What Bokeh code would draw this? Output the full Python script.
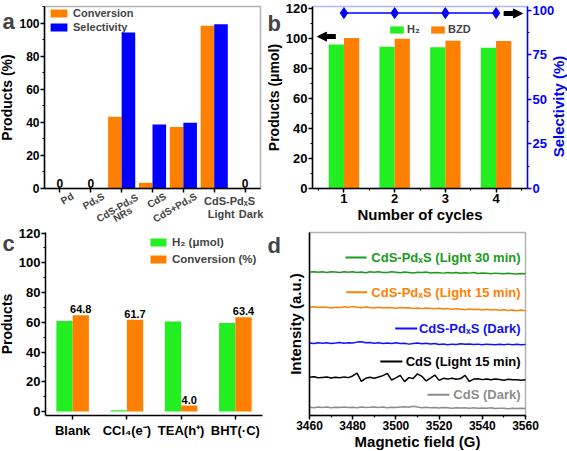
import math
from bokeh.plotting import figure
from bokeh.models import (Range1d, LinearAxis, FixedTicker, SingleIntervalTicker,
                          CustomJSTickFormatter, Legend, LegendItem, Label, Arrow, NormalHead,
                          ColumnDataSource, BoxAnnotation)
from bokeh.layouts import row, column
from bokeh.transform import dodge
from bokeh.core.properties import value
from bokeh.embed import file_html
from bokeh.resources import INLINE

# ---------------- data ----------------
a_samples = ["Pd", "PdₓS", "CdS-PdₓS\nNRs", "CdS", "CdS+PdₓS", "Light", "Dark"]
a_group_label = "CdS-PdₓS"          # shared label of the last two samples
a_conversion = [0, 0, 43.3, 3.4, 37.2, 98.3, 0]
a_selectivity = [0, 0, 94.3, 38.7, 39.7, 99.3, 0]

b_cycles = [1, 2, 3, 4]
b_h2 = [95.8, 94.3, 93.9, 93.6]
b_bzd = [100.0, 99.6, 98.3, 98.0]
b_selectivity = [98.5, 98.5, 98.5, 98.5]

c_conditions = ["Blank", "CCl₄(e⁻)", "TEA(h⁺)", "BHT(·C)"]
c_h2 = [60.8, 0.8, 60.5, 59.6]
c_conversion = [64.8, 61.7, 4.0, 63.4]

d_field = list(range(3460, 3561, 2))
d_names = ["CdS-PdₓS (Light 30 min)", "CdS-PdₓS (Light 15 min)", "CdS-PdₓS (Dark)",
           "CdS (Light 15 min)", "CdS (Dark)"]
d_pdxs_light30 = [78.4, 78.6, 78.3, 78.5, 78.2, 78.6, 78.4, 78.1, 78.5, 78.3,
                  78.6, 78.2, 78.4, 78.0, 78.5, 78.3, 78.6, 78.2, 78.1, 78.5,
                  78.3, 78.0, 78.4, 78.2, 77.9, 78.3, 78.1, 78.4, 77.9, 78.2,
                  78.0, 77.8, 78.1, 77.9, 78.2, 77.7, 78.0, 77.8, 78.1, 77.6,
                  77.9, 77.7, 77.5, 77.8, 77.6, 77.4, 77.7, 77.5, 77.3, 77.6, 77.4]
d_pdxs_light15 = [59.1, 59.4, 59.0, 59.3, 59.1, 58.8, 59.2, 59.0, 59.4, 59.1,
                  59.5, 59.2, 58.9, 59.3, 59.0, 58.8, 59.1, 58.7, 59.0, 58.9,
                  58.6, 59.0, 58.7, 58.9, 58.5, 58.8, 58.4, 58.7, 58.5, 58.3,
                  58.6, 58.2, 58.5, 58.0, 58.3, 58.1, 57.8, 58.2, 57.9, 58.1,
                  57.7, 58.0, 57.6, 57.9, 57.5, 57.8, 57.4, 57.7, 57.3, 57.6, 57.3]
d_pdxs_dark = [39.6, 39.3, 39.8, 39.5, 39.7, 39.4, 39.6, 39.9, 39.5, 39.8,
               39.6, 40.1, 40.3, 39.7, 39.9, 39.5, 39.7, 39.3, 39.6, 39.4,
               39.7, 39.3, 39.5, 39.0, 39.4, 39.6, 39.2, 39.5, 39.1, 39.3,
               38.8, 39.1, 38.7, 39.0, 38.8, 39.2, 38.9, 39.1, 38.8, 39.0,
               38.7, 39.0, 38.8, 38.6, 38.9, 38.7, 39.0, 38.6, 38.9, 38.7, 38.8]
d_cds_light15 = [20.9, 21.2, 20.6, 20.8, 21.0, 20.5, 20.9, 20.6, 21.1, 20.7,
                 21.6, 23.2, 18.6, 20.3, 20.9, 20.4, 21.0, 21.8, 23.0, 19.4,
                 20.6, 21.9, 18.5, 20.7, 20.2, 22.8, 21.4, 18.9, 20.4, 22.1,
                 19.2, 20.3, 19.9, 20.4, 19.8, 20.2, 21.9, 18.6, 19.9, 20.1,
                 19.6, 20.0, 19.5, 19.9, 19.7, 19.3, 19.8, 19.5, 19.6, 19.3, 19.6]
d_cds_dark = [4.5, 4.3, 4.6, 4.4, 4.6, 4.3, 4.5, 4.4, 4.7, 4.4,
              4.5, 4.3, 4.6, 4.4, 4.5, 4.7, 4.4, 4.6, 4.3, 4.5,
              4.4, 4.6, 4.8, 4.5, 5.0, 4.6, 4.3, 4.5, 4.2, 4.4,
              4.1, 4.4, 4.2, 4.0, 4.3, 4.1, 4.3, 4.0, 4.2, 3.9,
              4.1, 3.9, 4.2, 3.8, 4.0, 3.9, 3.7, 4.0, 3.8, 3.9, 3.8]

# ---------------- style ----------------
FONT = "Liberation Sans"
ORANGE = "#FF8000"
BLUE = "#0000FF"
GREEN = "#22EE22"
D_COLORS = ["#1A9A1A", "#FF8000", "#1010FF", "#000000", "#8C8C8C"]


def span(lo, hi, a, b, total):
    """Range such that data lo..hi occupies canvas pixels a..b (from left/bottom)."""
    k = (hi - lo) / (b - a)
    return Range1d(lo - a * k, hi + (total - b) * k)


def new_fig(w, h, x_range, y_range):
    p = figure(width=w, height=h, x_range=x_range, y_range=y_range,
               output_backend="svg", toolbar_location=None, min_border=0)
    p.xgrid.visible = False
    p.ygrid.visible = False
    p.outline_line_color = None
    return p


def frame_box(p, left, right, bottom, top, color, **kw):
    p.add_layout(BoxAnnotation(left=left, right=right, bottom=bottom, top=top,
                               fill_alpha=0, line_color=color, line_width=1.5,
                               level="underlay", **kw))


def style_axis(ax, size="12px", color="black", label_size="15px"):
    ax.axis_line_width = 1.5
    ax.axis_line_color = color
    ax.major_tick_line_color = color
    ax.minor_tick_line_color = color
    ax.major_tick_line_width = 1.5
    ax.minor_tick_line_width = 1.2
    ax.major_tick_out = 4
    ax.major_tick_in = 0
    ax.minor_tick_out = 2
    ax.minor_tick_in = 0
    ax.major_label_text_font = FONT
    ax.major_label_text_font_style = "bold"
    ax.major_label_text_font_size = size
    ax.major_label_text_color = color
    ax.major_label_standoff = 1
    ax.axis_label_text_font = FONT
    ax.axis_label_text_font_style = "bold"
    ax.axis_label_text_font_size = label_size
    ax.axis_label_text_color = color
    ax.axis_label_standoff = 1


def letter(p, text, x, y):
    p.add_layout(Label(x=x, y=y, x_units="screen", y_units="screen", text=text,
                       text_font=FONT, text_font_style="bold", text_font_size="22px",
                       text_align="left", text_baseline="alphabetic"))


def make_legend(items, loc, gw, gh, lh, size, standoff, orientation="vertical", spacing=0):
    return Legend(items=items, location=loc, orientation=orientation,
                  glyph_width=gw, glyph_height=gh, label_height=lh,
                  label_standoff=standoff, spacing=spacing, padding=0, margin=0,
                  border_line_color=None, background_fill_alpha=0,
                  label_text_font=FONT, label_text_font_style="bold",
                  label_text_font_size=size)


# ---------------- panel a ----------------
n_a = len(a_samples)
a_pos = [i + 0.5 for i in range(n_a)]
AX, AY = (0, n_a), (0, 110)
pa = new_fig(267, 225, span(*AX, 44, 260, 267), span(*AY, 37, 219, 225))
frame_box(pa, *AX, *AY, "black")
src_a = ColumnDataSource(dict(x=a_pos, conv=a_conversion, sel=a_selectivity))
ra1 = pa.vbar(x=dodge("x", -0.22), top="conv", width=0.44, source=src_a,
              fill_color=ORANGE, line_color=None)
ra2 = pa.vbar(x=dodge("x", 0.22), top="sel", width=0.44, source=src_a,
              fill_color=BLUE, line_color=None)
zero_x = [a_pos[i] for i in range(n_a) if a_conversion[i] == 0 and a_selectivity[i] == 0]
pa.text(x=zero_x, y=[0] * len(zero_x), text=["0"] * len(zero_x), text_align="center",
        text_baseline="bottom", y_offset=-1, text_font=value(FONT), text_font_style="bold",
        text_font_size="12px", text_color="black")
ya = pa.yaxis[0]
style_axis(ya, "12px", label_size="14px")
ya.ticker = SingleIntervalTicker(interval=20, num_minor_ticks=2)
ya.axis_label = "Products (%)"
ya.fixed_location = AX[0]
ya.bounds = AY
xa = pa.xaxis[0]
style_axis(xa)
xa.ticker = FixedTicker(ticks=a_pos)
xa.formatter = CustomJSTickFormatter(code="return ''")
xa.fixed_location = AY[0]
xa.bounds = AX
# rotated sample names (first line anchored by its top-right corner, a 2nd line tucked below)
for i in range(5):
    lines = a_samples[i].split("\n")
    first_dx, first_dy = (13, -3) if len(lines) > 1 else (10, -2)
    for j, (txt, dx, dy) in enumerate(zip(lines, (first_dx, 7), (first_dy, -16))):
        pa.add_layout(Label(x=a_pos[i], y=0, x_offset=dx, y_offset=dy, text=txt,
                            angle=math.radians(30), text_align="right", text_baseline="top",
                            text_font=FONT, text_font_style="bold", text_font_size="10px"))
pa.add_layout(Label(x=(a_pos[5] + a_pos[6]) / 2, y=0, y_offset=-6, text=a_group_label,
                    text_align="center", text_baseline="top", text_font=FONT,
                    text_font_style="bold", text_font_size="11px"))
for i, dx in ((5, 7), (6, 6)):
    pa.add_layout(Label(x=a_pos[i], y=0, x_offset=dx, y_offset=-19, text=a_samples[i],
                        text_align="center", text_baseline="top", text_font=FONT,
                        text_font_style="bold", text_font_size="11px"))
pa.add_layout(make_legend([LegendItem(label="Conversion", renderers=[ra1]),
                           LegendItem(label="Selectivity", renderers=[ra2])],
                          (48, 191), 21, 10, 14, "11px", 4))
letter(pa, "a", 2, 204)

# ---------------- panel b ----------------
BX, BY, BS = (0.38, 4.62), (0, 121), (0, 102.2)
pb = new_fig(300, 225, span(*BX, 45, 260, 300), span(*BY, 37, 219, 225))
pb.extra_y_ranges = {"sel": span(*BS, 37, 219, 225)}
frame_box(pb, *BX, *BY, BLUE)
src_b = ColumnDataSource(dict(c=b_cycles, h2=b_h2, bzd=b_bzd, sel=b_selectivity))
rb1 = pb.vbar(x=dodge("c", -0.15), top="h2", width=0.3, source=src_b,
              fill_color=GREEN, line_color=None)
rb2 = pb.vbar(x=dodge("c", 0.15), top="bzd", width=0.3, source=src_b,
              fill_color=ORANGE, line_color=None)
pb.line("c", "sel", source=src_b, y_range_name="sel", line_color=BLUE, line_width=1.5)
pb.scatter("c", "sel", source=src_b, y_range_name="sel", marker="diamond", size=11,
           fill_color=BLUE, line_color=BLUE)
yb = pb.yaxis[0]
style_axis(yb, "13px", label_size="14px")
yb.ticker = SingleIntervalTicker(interval=20, num_minor_ticks=2)
yb.axis_label = "Products (μmol)"
yb.fixed_location = BX[0]
yb.bounds = BY
xb = pb.xaxis[0]
style_axis(xb, "13px")
xb.ticker = SingleIntervalTicker(interval=1, num_minor_ticks=2)
xb.axis_label = "Number of cycles"
xb.axis_label_standoff = 0
xb.fixed_location = BY[0]
xb.bounds = BX
right = LinearAxis(y_range_name="sel", fixed_location=BX[1], bounds=BS,
                   ticker=FixedTicker(ticks=[0, 25, 50, 75, 100],
                                      minor_ticks=[12.5, 37.5, 62.5, 87.5]))
style_axis(right, "13px", color=BLUE)
pb.add_layout(right, "right")
pb.add_layout(Label(x=291, y=119, x_units="screen", y_units="screen", text="Selectivity (%)",
                    angle=math.pi / 2, text_align="center", text_baseline="middle",
                    text_font=FONT, text_font_style="bold", text_font_size="15px",
                    text_color=BLUE))
pb.add_layout(Arrow(end=NormalHead(size=9, fill_color="black", line_color="black"),
                    x_start=0.84, y_start=101, x_end=0.48, y_end=101,
                    line_width=5, line_color="black"))
pb.add_layout(Arrow(end=NormalHead(size=9, fill_color="black", line_color="black"),
                    x_start=4.15, y_start=98.3, x_end=4.52, y_end=98.3, y_range_name="sel",
                    line_width=5, line_color="black"))
pb.add_layout(make_legend([LegendItem(label="H₂", renderers=[rb1]),
                           LegendItem(label="BZD", renderers=[rb2])],
                          (121, 190), 17, 9, 11, "11px", 2, orientation="horizontal", spacing=2))
letter(pb, "b", 0, 202)

# ---------------- panel c ----------------
n_c = len(c_conditions)
c_pos = [i + 0.5 for i in range(n_c)]
CX, CY = (0, n_c), (-2.7, 120.4)
pc = new_fig(265, 226, span(*CX, 45, 262, 265), span(*CY, 36, 219, 226))
src_c = ColumnDataSource(dict(x=c_pos, h2=c_h2, conv=c_conversion,
                              lab=[f"{v:.1f}" for v in c_conversion]))
rc1 = pc.vbar(x=dodge("x", -0.15), top="h2", width=0.3, source=src_c,
              fill_color=GREEN, line_color=None)
rc2 = pc.vbar(x=dodge("x", 0.15), top="conv", width=0.3, source=src_c,
              fill_color=ORANGE, line_color=None)
pc.text(x=dodge("x", 0.15), y="conv", text="lab", source=src_c,
        text_align="center", text_baseline="bottom", y_offset=-2, text_font=value(FONT),
        text_font_style="bold", text_font_size="11px", text_color="black")
yc = pc.yaxis[0]
style_axis(yc, "13px", label_size="14px")
yc.ticker = SingleIntervalTicker(interval=20, num_minor_ticks=2)
yc.axis_label = "Products"
yc.fixed_location = CX[0]
yc.bounds = CY
xc = pc.xaxis[0]
style_axis(xc, "13px")
xc.ticker = FixedTicker(ticks=c_pos)
xc.major_label_overrides = {p: t for p, t in zip(c_pos, c_conditions)}
xc.major_label_standoff = 3
xc.fixed_location = CY[0]
xc.bounds = CX
pc.add_layout(make_legend([LegendItem(label="H₂ (μmol)", renderers=[rc1]),
                           LegendItem(label="Conversion (%)", renderers=[rc2])],
                          (148, 184), 20, 10, 17, "11.5px", 4))
letter(pc, "c", 2, 208)

# ---------------- panel d ----------------
DX, DY = (3460, 3560), (0, 100)
pd_ = new_fig(302, 226, span(*DX, 44, 260, 302), span(*DY, 36, 219, 226))
frame_box(pd_, *DX, *DY, "black")
d_series = [d_pdxs_light30, d_pdxs_light15, d_pdxs_dark, d_cds_light15, d_cds_dark]
for ys, col in zip(d_series, D_COLORS):
    pd_.line(d_field, ys, line_color=col, line_width=1.5)
# legend-like labels (layout positions)
d_label_x = 3557.7
d_label_y = [86.4, 67.3, 47.6, 29.5, 11.3]
d_seg_x0 = [3476.7, 3477.0, 3499.7, 3492.8, 3514.6]
d_seg_x1 = [3486.4, 3486.7, 3509.9, 3503.0, 3524.8]
pd_.segment(x0=d_seg_x0, y0=d_label_y, x1=d_seg_x1, y1=d_label_y, line_color=D_COLORS,
            line_width=2)
pd_.text(x=[d_label_x] * len(d_names), y=d_label_y, text=d_names, text_color=D_COLORS,
         text_align="right", text_baseline="middle", text_font=value(FONT),
         text_font_style="bold", text_font_size="13px")
xd = pd_.xaxis[0]
style_axis(xd, "12px")
xd.ticker = SingleIntervalTicker(interval=20, num_minor_ticks=2)
xd.axis_label = "Magnetic field (G)"
xd.axis_label_standoff = 0
xd.fixed_location = DY[0]
xd.bounds = DX
yd = pd_.yaxis[0]
style_axis(yd)
yd.ticker = FixedTicker(ticks=[])
yd.major_tick_out = 0
yd.axis_label = "Intensity (a.u.)"
yd.axis_label_standoff = 6
yd.fixed_location = DX[0]
yd.bounds = DY
letter(pd_, "d", 2, 206)

layout = column(row(pa, pb), row(pc, pd_))
open("out.html", "w").write(file_html(layout, INLINE))
